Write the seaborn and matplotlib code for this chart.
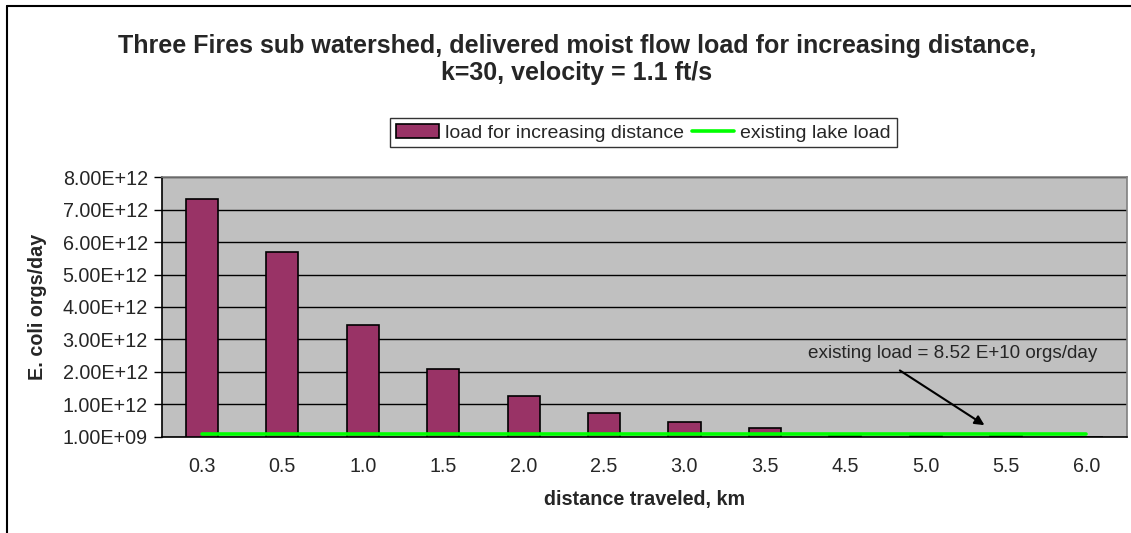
import matplotlib
matplotlib.use("Agg")
import matplotlib.pyplot as plt
from matplotlib.lines import Line2D
from matplotlib.patches import Patch
import seaborn as sns
import pandas as pd

# data
distances = ['0.3', '0.5', '1.0', '1.5', '2.0', '2.5', '3.0', '3.5', '4.5', '5.0', '5.5', '6.0']
loads = [7.33e12, 5.70e12, 3.46e12, 2.08e12, 1.26e12, 0.74e12, 0.44e12, 0.27e12,
         0.03e12, 0.015e12, 0.008e12, 0.003e12]
lake_load = [8.52e10] * len(distances)

yticks = [1e9 + k * 1e12 for k in range(9)]

df = pd.DataFrame({'distance': distances, 'load': loads, 'lake': lake_load})

sns.set_style("white")
plt.rcParams['font.family'] = ['Liberation Sans', 'DejaVu Sans']

fig = plt.figure(figsize=(11.31, 5.33), dpi=100)
ax = fig.add_axes([0.143, 0.1807, 0.8532, 0.4867])
ax.set_facecolor('#c0c0c0')

sns.barplot(data=df, x='distance', y='load', color='#993366', edgecolor='black',
            linewidth=1.2, width=0.4, saturation=1, ax=ax, zorder=3)
sns.lineplot(data=df, x='distance', y='lake', color='#00ff00', linewidth=2.6,
             sort=False, ax=ax, zorder=4)

ax.set_xlim(-0.5, len(distances) - 0.5)
ax.set_ylim(1e9, 8.001e12)
ax.set_yticks(yticks[:8] + [8.001e12])
ax.set_yticklabels([f'{v:.2E}' for v in yticks[:8]] + ['8.00E+12'])
ax.grid(axis='y', color='black', linewidth=1, zorder=1)
ax.set_axisbelow(True)

for s in ['top', 'right']:
    ax.spines[s].set_color('#808080')
    ax.spines[s].set_linewidth(1.2)
for s in ['left', 'bottom']:
    ax.spines[s].set_color('black')
    ax.spines[s].set_linewidth(1.2)

ax.tick_params(axis='y', which='both', left=True, length=6, width=1, color='black',
               labelsize=14.2, pad=4)
ax.tick_params(axis='x', bottom=False, labelsize=14.2, pad=11)

ax.set_xlabel('distance traveled, km', fontsize=14.2, fontweight='bold')
ax.set_ylabel('E. coli orgs/day', fontsize=14.2, fontweight='bold')
ax.xaxis.set_label_coords(0.5, -0.207)
ax.yaxis.set_label_coords(-0.119, 0.5)

# annotation
ax.annotate('', xy=(9.76, 0.31e12), xytext=(8.65, 2.09e12),
            arrowprops=dict(arrowstyle='-|>', color='black', lw=1.5, mutation_scale=14),
            zorder=5)
ax.text(7.54, 2.58e12, 'existing load = 8.52 E+10 orgs/day', fontsize=13.6,
        ha='left', va='center', zorder=5)

fig.text(0.51, 0.913, 'Three Fires sub watershed, delivered moist flow load for increasing distance,',
         ha='center', va='center', fontsize=18, fontweight='bold')
fig.text(0.51, 0.863, 'k=30, velocity = 1.1 ft/s',
         ha='center', va='center', fontsize=18, fontweight='bold')

handles = [Patch(facecolor='#993366', edgecolor='black', linewidth=1.2),
           Line2D([0], [0], color='#00ff00', linewidth=2.6)]
leg = fig.legend(handles, ['load for increasing distance', 'existing lake load'],
                 loc='center', bbox_to_anchor=(0.569, 0.751), ncol=2, frameon=True,
                 fancybox=False, fontsize=14, handlelength=2.2, handleheight=0.7,
                 handletextpad=0.3, columnspacing=0.4, borderpad=0.3)
leg.get_frame().set_edgecolor('black')
leg.get_frame().set_linewidth(1.0)

# outer chart frame (left and top edges visible)
fig.add_artist(Line2D([0.006, 0.006], [0, 0.989], color='black', linewidth=1.5,
                      transform=fig.transFigure))
fig.add_artist(Line2D([0.006, 1], [0.989, 0.989], color='black', linewidth=1.5,
                      transform=fig.transFigure))

fig.savefig('out.png', dpi=100)
